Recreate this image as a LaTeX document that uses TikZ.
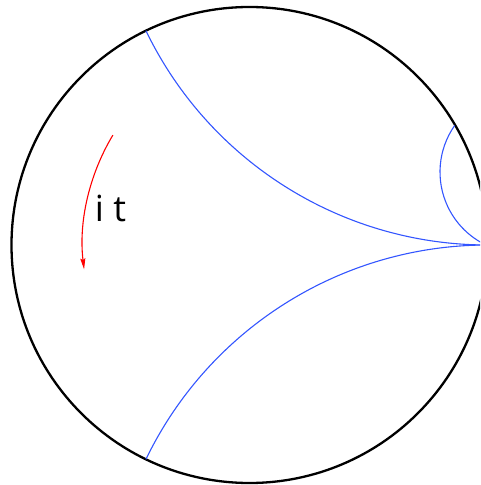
\documentclass[tikz,border=0pt]{standalone}
\usepackage{fontspec}
\setmainfont{Open Sans}
\usetikzlibrary{arrows.meta,calc}
\definecolor{geoblue}{RGB}{51,85,255}
\tikzset{
  disk/.style={black, line width=2.3pt},
  geodesic/.style={geoblue, line width=1.1pt},
  rotarrow/.style={red, line width=1.1pt, -{Stealth[length=11pt,width=5pt,inset=1.5pt]}},
  label/.style={font=\fontsize{36}{40}\selectfont, anchor=base, inner sep=0pt}
}
\begin{document}
\begin{tikzpicture}[x=1pt,y=1pt]
\useasboundingbox (0,0) rectangle (480,485);
\clip (0,0) rectangle (480,485);
\coordinate (O) at (249.5,240);
\coordinate (P) at (487.5,240);
\coordinate (S) at ($(521,313)+(145:81)$);
% boundary circle
\draw[disk] (O) circle[radius=238];
% geodesics ending at the ideal point P
\draw[geodesic] (P) arc[start angle=270, end angle=205.8, radius=379.4];
\draw[geodesic] (P) arc[start angle=90, end angle=154.2, radius=379.4];
% small arc near P
\draw[geodesic] (S) arc[start angle=145, end angle=252, radius=81];
% rotation arrow
\coordinate (R) at ($(294.6,240.7)+(149:212)$);
\draw[rotarrow] (R) arc[start angle=149, end angle=186.8, radius=212];
\node[label] (it) at (110.5,263) {i t};
\end{tikzpicture}
\end{document}
